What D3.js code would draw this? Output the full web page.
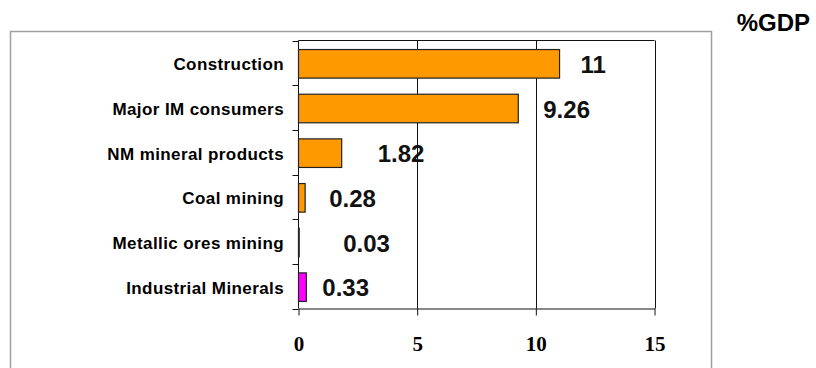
<!DOCTYPE html>
<html>
<head>
<meta charset="utf-8">
<script src="https://cdn.jsdelivr.net/npm/d3@7"></script>
<style>
  body { margin: 0; background: #fff; }
  svg { display: block; }
</style>
</head>
<body>
<div id="chart"></div>
<script>
// categories top to bottom, value in %GDP
const sectors = ["Construction", "Major IM consumers", "NM mineral products",
                 "Coal mining", "Metallic ores mining", "Industrial Minerals"];
const shares = [11, 9.26, 1.82, 0.28, 0.03, 0.33];
const valueLabels = ["11", "9.26", "1.82", "0.28", "0.03", "0.33"];
const xTicks = [0, 5, 10, 15];

const width = 816, height = 368;
const plotLeft = 298.5, plotRight = 654.5, plotTop = 40.5, plotBottom = 308.5;

const svg = d3.select("#chart").append("svg")
    .attr("width", width)
    .attr("height", height);

// outer gray frame (bottom edge runs off the picture)
svg.append("rect")
    .attr("x", 10.5).attr("y", 31.5)
    .attr("width", 701).attr("height", 360)
    .attr("fill", "none")
    .attr("stroke", "#a0a0a0")
    .attr("stroke-width", 1.5);

svg.append("text")
    .attr("x", 810).attr("y", 31)
    .attr("text-anchor", "end")
    .style("font-family", "Liberation Sans, Arial, sans-serif")
    .style("font-weight", "bold")
    .style("font-size", "24px")
    .text("%GDP");

const x = d3.scaleLinear().domain([0, 15]).range([plotLeft, plotRight]);
const y = d3.scaleBand().domain(sectors).range([plotTop + 1, plotBottom + 1])
    .paddingInner(0.36).paddingOuter(0.18);

// gridlines and frame of plot
svg.append("g")
    .selectAll("line")
    .data(xTicks.slice(1))
    .join("line")
    .attr("x1", d => Math.round(x(d)) + 0.5).attr("x2", d => Math.round(x(d)) + 0.5)
    .attr("y1", plotTop).attr("y2", plotBottom)
    .attr("stroke", "#111");

svg.append("line")
    .attr("x1", plotLeft).attr("x2", plotRight)
    .attr("y1", plotTop).attr("y2", plotTop)
    .attr("stroke", "#111");

// bottom axis
const xAxis = svg.append("g")
    .attr("transform", `translate(0,${plotBottom})`)
    .call(d3.axisBottom(x).tickValues(xTicks).tickSize(7).tickSizeOuter(0).tickPadding(21));
xAxis.select(".domain").attr("stroke", "#111");
xAxis.selectAll(".tick line").attr("stroke", "#111");
xAxis.selectAll("text")
    .attr("fill", "#000")
    .style("font-family", "Liberation Serif, Times New Roman, serif")
    .style("font-weight", "bold")
    .style("font-size", "21px");

// left axis: ticks sit on the band boundaries
const bounds = sectors.map(s => y(s) - y.step() * y.paddingInner() / 2);
bounds.push(plotBottom + 1);
const yAxis = svg.append("g");
yAxis.append("line")
    .attr("x1", plotLeft).attr("x2", plotLeft)
    .attr("y1", plotTop).attr("y2", plotBottom)
    .attr("stroke", "#111");
yAxis.selectAll("line.tick")
    .data(bounds)
    .join("line")
    .attr("class", "tick")
    .attr("x1", plotLeft - 6).attr("x2", plotLeft)
    .attr("y1", d => Math.round(d) - 0.5).attr("y2", d => Math.round(d) - 0.5)
    .attr("stroke", "#111");

svg.append("g")
    .selectAll("text")
    .data(sectors)
    .join("text")
    .attr("x", 284)
    .attr("y", d => y(d) + y.bandwidth() / 2 + 6.5)
    .attr("text-anchor", "end")
    .style("font-family", "Liberation Sans, Arial, sans-serif")
    .style("font-weight", "bold")
    .style("font-size", "17px")
    .style("letter-spacing", "0.4px")
    .text(d => d);

// bars
svg.append("g")
    .selectAll("rect")
    .data(sectors)
    .join("rect")
    .attr("x", x(0))
    .attr("y", d => y(d))
    .attr("width", (d, i) => x(shares[i]) - x(0))
    .attr("height", y.bandwidth())
    .attr("fill", (d, i) => i === sectors.length - 1 ? "#ff00ff" : "#ff9900")
    .attr("stroke", "#222")
    .attr("stroke-width", 1.2);

// value labels, nudged like the original
const labelDx = [21, 25, 36, 24, 44, 16];
svg.append("g")
    .selectAll("text")
    .data(sectors)
    .join("text")
    .attr("x", (d, i) => x(shares[i]) + labelDx[i])
    .attr("y", d => y(d) + y.bandwidth() / 2 + 9)
    .style("font-family", "Liberation Sans, Arial, sans-serif")
    .style("font-weight", "bold")
    .style("font-size", "24px")
    .attr("fill", "#111")
    .text((d, i) => valueLabels[i]);
</script>
</body>
</html>
